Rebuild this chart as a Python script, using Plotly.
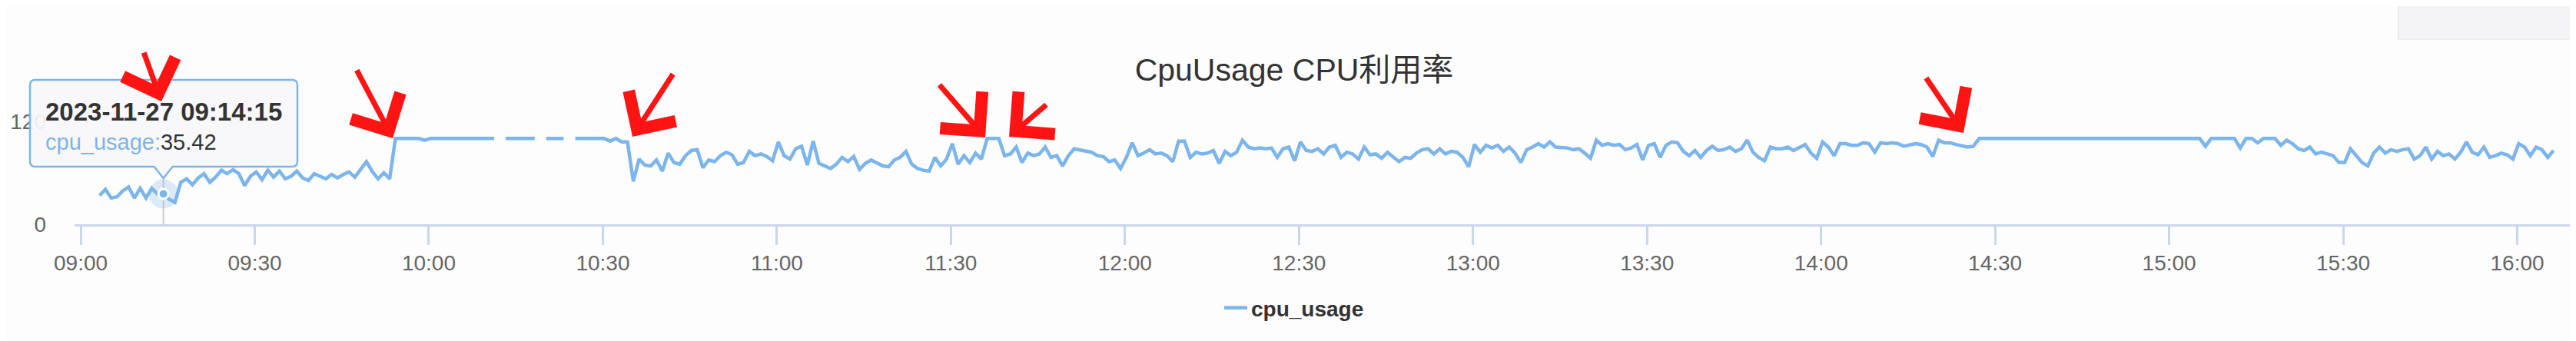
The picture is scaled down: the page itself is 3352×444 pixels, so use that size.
import plotly.graph_objects as go
import pandas as pd

# ---------------- data ----------------
title_text = "CpuUsage CPU利用率"
series_name = "cpu_usage"
start_time = "2023-11-27 09:03:15"   # one sample per minute

usage_0903 = [33.5, 40.7, 30.6, 32, 39, 43.5, 30.6]
usage_0910 = [42, 30.6, 42, 35, 35.42, 29, 25.5, 49, 53, 46]
usage_0920 = [54, 59, 49, 55, 63, 59, 63.6, 59, 45, 56]
usage_0930 = [61, 52, 63, 55, 62, 53, 56, 62, 54, 51]
usage_0940 = [59, 56, 53, 58, 54, 58, 61, 55, 63.6, 73]
usage_0950 = [61.6, 53, 60, 53, 100, 100, 100, 100, 100, 98]
usage_1000 = [100, 100, 100, 100, 100, 100, 100, 100, 100, 100]
usage_1010 = [100, 100, None, 100, 100, 100, 100, 100, 100, None]
usage_1020 = [100, 100, 100, 100, None, 100, 100, 100, 100, 100]
usage_1030 = [100, 97, 100, 96, 96, 50, 76, 69, 68, 75]
usage_1040 = [62, 83, 72, 70, 80, 86, 87, 66, 75, 73]
usage_1050 = [80, 84, 81, 70, 72, 85, 80, 82, 79, 74]
usage_1100 = [96, 80, 76, 88, 91, 69, 97, 71, 68, 65]
usage_1110 = [70, 78, 73, 79, 64, 71, 75, 71, 68, 67]
usage_1120 = [75, 78, 85, 70, 65, 63, 62, 78, 68, 76]
usage_1130 = [94, 70, 80, 72, 83, 76, 100, 100, 100, 80]
usage_1140 = [82, 90, 72, 83, 80, 82, 90, 78, 80, 68]
usage_1150 = [80, 88, 87, 86, 84, 80, 79, 73, 75, 65]
usage_1200 = [78, 95, 80, 83, 87, 82, 83, 80, 73, 97]
usage_1210 = [97, 78, 84, 82, 83, 86, 71, 85, 80, 84]
usage_1220 = [98, 90, 88, 89, 88, 89, 78, 88, 90, 74]
usage_1230 = [96, 86, 85, 88, 82, 90, 92, 78, 84, 82]
usage_1240 = [76, 90, 81, 82, 77, 84, 78, 73, 78, 77]
usage_1250 = [83, 87, 88, 82, 88, 82, 85, 84, 78, 67]
usage_1300 = [93, 84, 92, 89, 92, 85, 90, 83, 72, 87]
usage_1310 = [90, 94, 90, 96, 90, 90, 89, 87, 88, 83]
usage_1320 = [77, 98, 92, 94, 92, 93, 87, 89, 93, 75]
usage_1330 = [92, 94, 78, 92, 96, 95, 85, 80, 86, 78]
usage_1340 = [86, 91, 86, 87, 90, 85, 88, 98, 84, 78]
usage_1350 = [74, 90, 88, 88, 90, 86, 90, 93, 83, 77]
usage_1400 = [96, 90, 80, 94, 94, 92, 92, 95, 94, 84]
usage_1410 = [95, 94, 95, 94, 91, 93, 94, 93, 90, 79]
usage_1420 = [98, 95, 95, 93, 92, 90, 91, 100, 100, 100]
usage_1430 = [100, 100, 100, 100, 100, 100, 100, 100, 100, 100]
usage_1440 = [100, 100, 100, 100, 100, 100, 100, 100, 100, 100]
usage_1450 = [100, 100, 100, 100, 100, 100, 100, 100, 100, 100]
usage_1500 = [100, 100, 100, 100, 100, 100, 91, 100, 100, 100]
usage_1510 = [100, 100, 89, 100, 100, 95, 100, 100, 100, 92]
usage_1520 = [98, 94, 88, 86, 90, 82, 84, 82, 80, 72]
usage_1530 = [72, 88, 80, 72, 68, 83, 90, 83, 87, 85]
usage_1540 = [87, 88, 76, 80, 90, 76, 85, 80, 82, 76]
usage_1550 = [84, 96, 84, 81, 90, 78, 80, 83, 81, 76]
usage_1600 = [94, 90, 80, 90, 87, 78, 86]

cpu_usage = (usage_0903 + usage_0910 + usage_0920 + usage_0930 + usage_0940 +
             usage_0950 + usage_1000 + usage_1010 + usage_1020 + usage_1030 +
             usage_1040 + usage_1050 + usage_1100 + usage_1110 + usage_1120 +
             usage_1130 + usage_1140 + usage_1150 + usage_1200 + usage_1210 +
             usage_1220 + usage_1230 + usage_1240 + usage_1250 + usage_1300 +
             usage_1310 + usage_1320 + usage_1330 + usage_1340 + usage_1350 +
             usage_1400 + usage_1410 + usage_1420 + usage_1430 + usage_1440 +
             usage_1450 + usage_1500 + usage_1510 + usage_1520 + usage_1530 +
             usage_1540 + usage_1550 + usage_1600)

times = pd.date_range(start_time, periods=len(cpu_usage), freq="60s")

day = "2023-11-27 "
tick_labels = ["09:00", "09:30", "10:00", "10:30", "11:00", "11:30", "12:00",
               "12:30", "13:00", "13:30", "14:00", "14:30", "15:00", "15:30", "16:00"]
tick_times = [day + t for t in tick_labels]
y_ticks = [0, 120]
x_range = [day + "08:58:56", day + "16:09:20"]

hover_time = pd.Timestamp(day + "09:14:15")
hover_index = times.get_loc(hover_time)
hover_value = cpu_usage[hover_index]

# ---------------- layout geometry (pixels) ----------------
W, H = 3352, 444
ML, MR, MT, MB = 89, 14, 150, 160
PW, PH = W - ML - MR, H - MT - MB


def px(x):
    return (x - ML) / PW


def py(y):
    return (H - MB - y) / PH


r0, r1 = pd.Timestamp(x_range[0]), pd.Timestamp(x_range[1])
hover_px = ML + (hover_time - r0) / (r1 - r0) * PW

LINE_COLOR = "#7cb5ec"
FONT = "Liberation Sans, Arial, Noto Sans CJK SC, sans-serif"

fig = go.Figure()
fig.add_trace(go.Scatter(
    x=times, y=cpu_usage, mode="lines", name=series_name,
    line=dict(color=LINE_COLOR, width=4.5), connectgaps=False,
))
# hover halo + point
fig.add_trace(go.Scatter(
    x=[hover_time], y=[hover_value], mode="markers", showlegend=False,
    marker=dict(size=38, color="rgba(124,181,236,0.25)", line=dict(width=0)),
))
fig.add_trace(go.Scatter(
    x=[hover_time], y=[hover_value], mode="markers", showlegend=False,
    marker=dict(size=13, color=LINE_COLOR, line=dict(width=3, color="white")),
))

shapes = []
# background panel top-right
shapes.append(dict(type="rect", xref="paper", yref="paper",
                   x0=px(3113), x1=px(3360), y0=py(43), y1=py(-5),
                   fillcolor="#f4f4f6", line=dict(color="#e8e8ea", width=1.5), layer="below"))
# crosshair
shapes.append(dict(type="line", xref="x", yref="paper", x0=hover_time, x1=hover_time,
                   y0=0, y1=py(224), line=dict(color="#cccccc", width=2), layer="below"))
# tooltip box with pointer
L, R, T, B, rr = 31, 379, 96, 209, 7
tip_y = 224
pts = [("M", L + rr, T), ("L", R - rr, T), ("Q", R, T, R, T + rr), ("L", R, B - rr),
       ("Q", R, B, R - rr, B), ("L", hover_px + 12, B), ("L", hover_px, tip_y),
       ("L", hover_px - 12, B), ("L", L + rr, B), ("Q", L, B, L, B - rr),
       ("L", L, T + rr), ("Q", L, T, L + rr, T)]
path = ""
for p in pts:
    cmd, coords = p[0], p[1:]
    pairs = [f"{px(coords[i]):.6f},{py(coords[i + 1]):.6f}" for i in range(0, len(coords), 2)]
    path += cmd + " ".join(pairs) + " "
path += "Z"
shapes.append(dict(type="path", xref="paper", yref="paper", path=path,
                   fillcolor="rgba(247,248,250,0.93)", line=dict(color=LINE_COLOR, width=2.5),
                   layer="above"))

annotations = []
annotations.append(dict(xref="paper", yref="paper", x=px(49), y=py(137), xanchor="left",
                        yanchor="middle", showarrow=False,
                        text=f"<b>{hover_time.strftime('%Y-%m-%d %H:%M:%S')}</b>",
                        font=dict(size=33, color="#333333", family=FONT)))
annotations.append(dict(xref="paper", yref="paper", x=px(49), y=py(177), xanchor="left",
                        yanchor="middle", showarrow=False,
                        text=f"<span style='color:{LINE_COLOR}'>{series_name}:</span>{hover_value}",
                        font=dict(size=29, color="#333333", family=FONT)))

# red hand-drawn style arrows (tail x, tail y, head x, head y) in pixels
arrows_px = [(179, 60, 202, 124), (456, 83, 503, 172), (868, 88, 815, 170),
             (1214, 102, 1274, 171), (1354, 128, 1305, 170), (2498, 93, 2547, 165)]
for tx, ty, hx, hy in arrows_px:
    annotations.append(dict(xref="paper", yref="paper", x=px(hx), y=py(hy),
                            ax=tx - hx, ay=ty - hy, text="", showarrow=True,
                            font=dict(size=1), borderpad=0,
                            arrowhead=4, arrowsize=2.0, arrowwidth=7, arrowcolor="#ff1414"))

fig.update_layout(
    width=W, height=H,
    margin=dict(l=ML, r=MR, t=MT, b=MB, pad=0, autoexpand=False),
    paper_bgcolor="#fdfdfd", plot_bgcolor="#fdfdfd",
    font=dict(family=FONT, color="#666666"),
    title=dict(text=title_text, x=0.5, xref="container", xanchor="center",
               y=1 - 83 / H, yref="container", yanchor="middle",
               font=dict(size=41, color="#333333", family=FONT)),
    showlegend=True,
    legend=dict(orientation="h", xref="container", x=0.5, xanchor="center",
                yref="container", y=1 - 393 / H, yanchor="middle",
                font=dict(size=28, color="#333333", family=FONT, weight="bold"),
                bgcolor="rgba(0,0,0,0)"),
    xaxis=dict(type="date", range=x_range, tickvals=tick_times, ticktext=tick_labels,
               ticks="outside", ticklen=24, tickwidth=2.5, tickcolor="#ccd6eb",
               showline=True, linecolor="#ccd6eb", linewidth=2.5, showgrid=False,
               zeroline=False, automargin=False,
               tickfont=dict(size=28, color="#666666", family=FONT)),
    yaxis=dict(range=[0, 120], tickvals=y_ticks, showgrid=True, gridcolor="#e6e6e6",
               gridwidth=2.5, zeroline=False, showline=False, ticks="", automargin=False,
               ticklabelstandoff=36, tickfont=dict(size=28, color="#666666", family=FONT)),
    shapes=shapes, annotations=annotations,
)

fig.write_html("out.html")
